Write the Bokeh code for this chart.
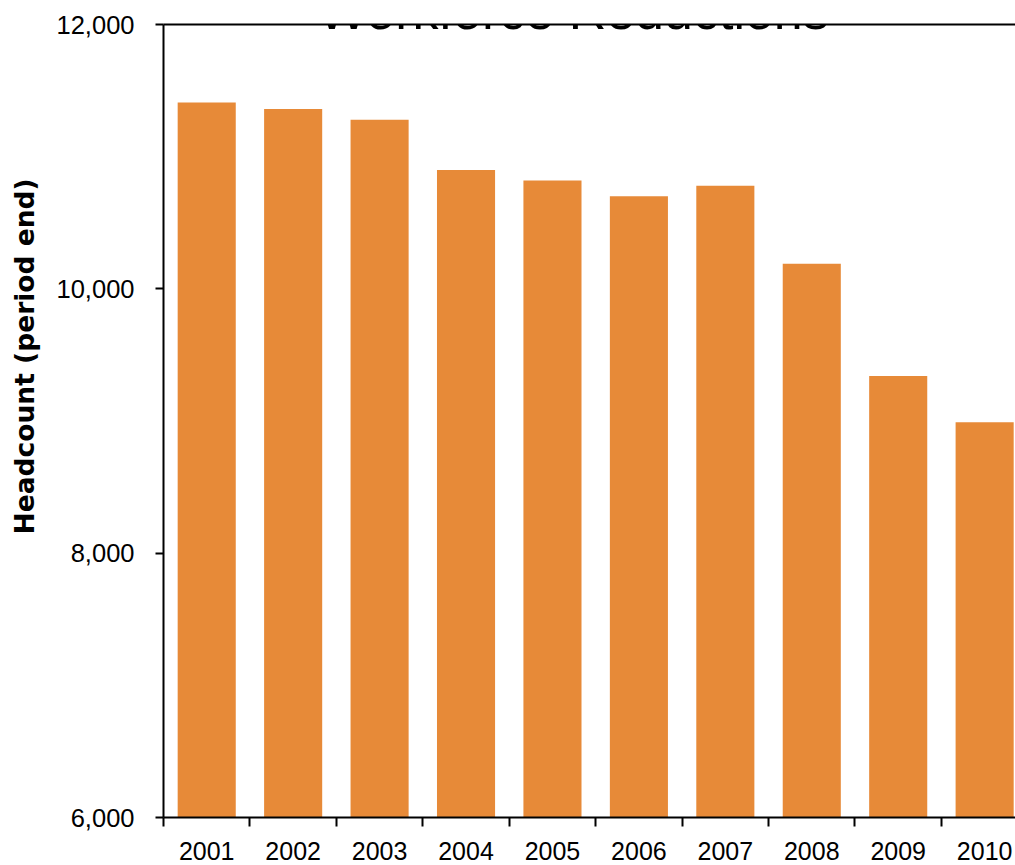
from bokeh.embed import file_html
from bokeh.models import (ColumnDataSource, FixedTicker, Label, LinearAxis,
                          NumeralTickFormatter, Range1d)
from bokeh.plotting import figure
from bokeh.resources import INLINE

# Year-end headcount
years = [2001, 2002, 2003, 2004, 2005, 2006, 2007, 2008, 2009, 2010]
headcount = [11410, 11360, 11280, 10900, 10820, 10700, 10780, 10190, 9340, 8990]

y_ticks = [6000, 8000, 10000, 12000]
y_min, y_max = 6000, 12000

title_text = "Workforce Reductions"
y_title = "Headcount (period end)"

FONT = "Liberation Sans"
BAR_COLOR = "#E78A38"

W, H = 1015, 865
FRAME_LEFT, FRAME_TOP, FRAME_BOTTOM = 163, 24, 817

source = ColumnDataSource(data=dict(
    year=years,
    headcount=headcount,
    base=[y_min] * len(years),
))

p = figure(
    width=W, height=H,
    output_backend="svg",
    toolbar_location=None,
    x_range=Range1d(years[0] - 0.5, years[-1] + 0.357),
    y_range=Range1d(y_min, y_max),
    x_axis_location=None, y_axis_location=None,
    min_border_left=FRAME_LEFT, min_border_right=0,
    min_border_top=FRAME_TOP, min_border_bottom=H - FRAME_BOTTOM,
)
p.outline_line_color = None
p.background_fill_color = "white"
p.border_fill_color = "white"
p.xgrid.grid_line_color = None
p.ygrid.grid_line_color = None

p.vbar(x="year", top="headcount", bottom="base", width=0.672,
       source=source, fill_color=BAR_COLOR, line_color=None)

# Value axis; the title sits a little above the axis middle, so it is
# padded with non-breaking spaces at its start
yaxis = LinearAxis(
    ticker=FixedTicker(ticks=y_ticks, minor_ticks=[]),
    formatter=NumeralTickFormatter(format="0,0"),
    axis_label="\u00a0" * 14 + y_title,
)
yaxis.axis_line_color = "black"
yaxis.axis_line_width = 2
yaxis.major_tick_line_color = "black"
yaxis.major_tick_line_width = 2
yaxis.major_tick_out = 8
yaxis.major_tick_in = 0
yaxis.minor_tick_line_color = None
yaxis.major_label_standoff = 21
yaxis.major_label_text_font = FONT
yaxis.major_label_text_font_size = "25.5px"
yaxis.major_label_text_color = "black"
yaxis.axis_label_text_font = "DejaVu Sans"
yaxis.axis_label_text_font_size = "26.5px"
yaxis.axis_label_text_font_style = "bold"
yaxis.axis_label_text_color = "black"
yaxis.axis_label_standoff = 14
p.add_layout(yaxis, "left")

# Category axis: labels at the bar centres, tick marks between categories
xaxis = LinearAxis(
    ticker=FixedTicker(ticks=years,
                       minor_ticks=[y - 0.5 for y in years] + [years[-1] + 0.5]),
)
xaxis.axis_line_color = "black"
xaxis.axis_line_width = 2
xaxis.major_tick_line_color = None
xaxis.major_tick_out = 9
xaxis.major_tick_in = 0
xaxis.minor_tick_line_color = "black"
xaxis.minor_tick_line_width = 2
xaxis.minor_tick_out = 9
xaxis.minor_tick_in = 0
xaxis.major_label_standoff = 15
xaxis.major_label_text_font = FONT
xaxis.major_label_text_font_size = "25px"
xaxis.major_label_text_color = "black"
p.add_layout(xaxis, "below")

# Top border line
top = LinearAxis(ticker=FixedTicker(ticks=[], minor_ticks=[]))
top.axis_line_color = "black"
top.axis_line_width = 2
top.major_tick_line_color = None
top.minor_tick_line_color = None
top.major_label_text_font_size = "0px"
top.major_label_standoff = 0
top.major_tick_out = 0
p.add_layout(top, "above")

# Chart title (label offsets are measured from the frame's bottom-left)
p.add_layout(Label(
    x=573 - FRAME_LEFT, y=FRAME_BOTTOM - 10, x_units="screen", y_units="screen",
    text=title_text, text_align="center", text_baseline="alphabetic",
    text_font=FONT, text_font_size="52px", text_color="black",
))

open("out.html", "w").write(file_html(p, INLINE))
